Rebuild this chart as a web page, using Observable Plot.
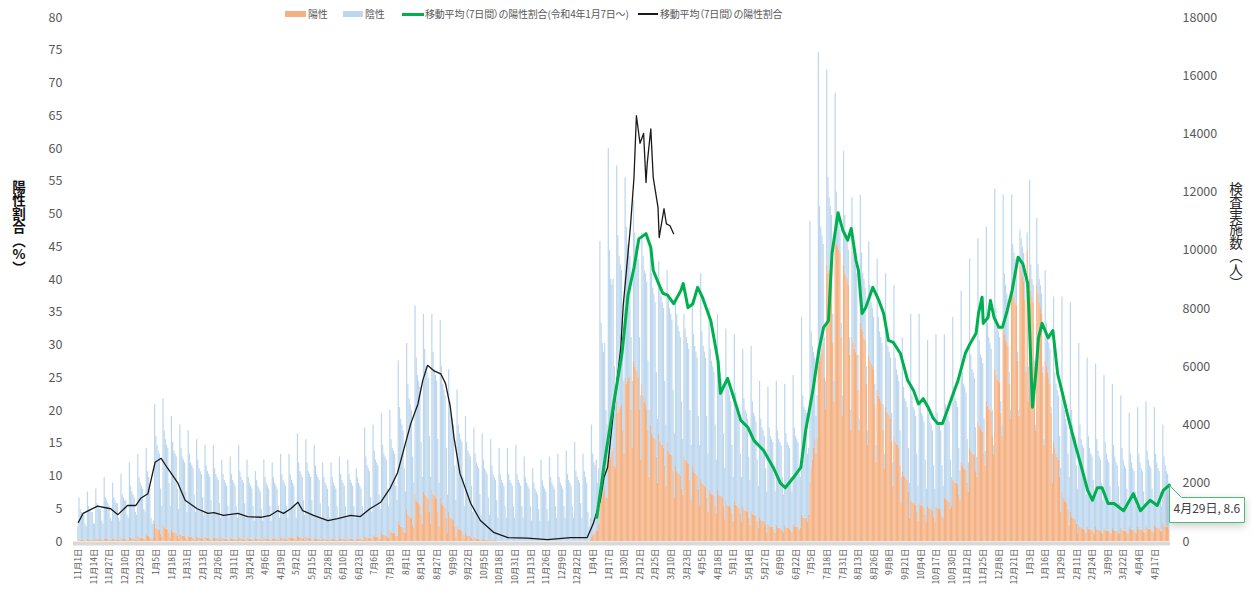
<!DOCTYPE html>
<html>
<head>
<meta charset="utf-8">
<script src="https://cdn.jsdelivr.net/npm/d3@7"></script>
<script src="https://cdn.jsdelivr.net/npm/@observablehq/plot@0.6"></script>
<style>
  body { margin: 0; background: #fff; font-family: "Noto Sans CJK JP", "Noto Sans", sans-serif; }
  #wrap { position: relative; width: 1252px; height: 602px; overflow: hidden; }
  .leg { position: absolute; top: 7px; font-size: 10px; line-height: 14px; color: #595959; white-space: nowrap; font-feature-settings: "palt"; letter-spacing: -0.2px; }
  .sw { position: absolute; }
  .vt { position: absolute; writing-mode: vertical-rl; text-orientation: upright; font-size: 13.5px; line-height: 14px; }
</style>
</head>
<body>
<div id="wrap">
  <div id="chart"></div>
  <div class="sw" style="left:285px;top:11px;width:21px;height:6px;background:#F4B183"></div>
  <div class="leg" style="left:308px">陽性</div>
  <div class="sw" style="left:343px;top:11px;width:20px;height:6px;background:#BDD7EE"></div>
  <div class="leg" style="left:365px">陰性</div>
  <div class="sw" style="left:402px;top:12.5px;width:22px;height:3px;background:#00B050"></div>
  <div class="leg" style="left:425px">移動平均（7日間）の陽性割合(令和4年1月7日～)</div>
  <div class="sw" style="left:638px;top:13.3px;width:20px;height:1.4px;background:#1a1a1a"></div>
  <div class="leg" style="left:660px">移動平均（7日間）の陽性割合</div>
  <div class="vt" style="left:12px;top:180px;font-weight:bold;color:#111">陽性割合（%）</div>
  <div class="vt" style="left:1229px;top:182px;color:#262626">検査実施数（人）</div>
</div>
<script>
// day 0 = 2020-11-01 (one value per day, 910 days, to 2023-04-29)
const startDate = "2020-11-01";

// x-axis tick labels (every 13 days from 11月1日)
const tickLabels = [
  "11月1日","11月14日","11月27日","12月10日","12月23日",
  "1月5日","1月18日","1月31日","2月13日","2月26日","3月11日","3月24日","4月6日","4月19日","5月2日","5月15日","5月28日","6月10日","6月23日","7月6日","7月19日","8月1日","8月14日","8月27日","9月9日","9月22日","10月5日","10月18日","10月31日","11月13日","11月26日","12月9日","12月22日",
  "1月4日","1月17日","1月30日","2月12日","2月25日","3月10日","3月23日","4月5日","4月18日","5月1日","5月14日","5月27日","6月9日","6月22日","7月5日","7月18日","7月31日","8月13日","8月26日","9月8日","9月21日","10月4日","10月17日","10月30日","11月12日","11月25日","12月8日","12月21日",
  "1月3日","1月16日","1月29日","2月11日","2月24日","3月9日","3月22日","4月4日","4月17日"
];
const tickStep = 13;

// 検査実施数 per day, in hundreds of persons
const testsHundreds = [
5,15,11,10,9,9,6,
5,17,12,11,10,10,6,
6,18,13,12,11,11,7,
6,22,15,14,13,12,8,
7,20,15,14,13,13,8,
7,23,16,15,14,14,9,
8,27,19,17,16,15,10,
9,30,22,20,19,18,11,
10,32,24,22,18,8,6,
7,47,36,33,31,30,18,
12,49,38,35,33,32,20,
12,43,34,31,30,29,18,
11,40,32,29,28,27,17,
10,38,30,27,26,25,16,
10,35,28,25,24,23,15,
9,33,26,24,23,22,14,
9,33,25,23,22,21,13,
8,28,23,21,20,19,12,
8,29,23,21,20,19,12,
8,33,24,22,21,20,13,
8,28,22,20,19,18,12,
7,24,21,19,18,17,11,
7,28,22,20,19,18,12,
7,27,22,20,19,18,12,
8,30,23,21,20,19,12,
8,30,23,21,20,19,12,
8,37,27,24,23,22,14,
9,35,27,24,23,22,14,
9,33,26,23,22,21,13,
8,27,22,20,19,18,12,
8,27,22,20,19,18,12,
8,29,23,21,20,19,12,
8,28,23,21,20,19,12,
8,25,22,20,19,18,12,
9,39,29,26,25,24,15,
10,40,31,28,27,26,16,
11,44,33,30,29,28,18,
12,45,35,32,31,30,19,
14,62,46,42,40,38,25,
17,68,54,49,47,45,29,
20,81,63,57,55,53,34,
22,78,66,60,58,56,36,
22,78,65,59,57,55,35,
20,76,60,54,52,50,32,
16,59,48,44,42,40,26,
14,52,40,37,35,34,22,
12,43,34,31,30,29,19,
10,39,30,27,26,25,16,
9,37,28,25,24,23,15,
9,35,26,23,22,21,14,
8,32,23,21,20,19,12,
8,32,23,21,20,19,12,
8,33,23,21,20,19,12,
8,29,22,20,19,18,12,
7,25,20,18,17,16,11,
7,28,21,19,18,17,11,
7,29,22,20,19,18,12,
8,30,22,20,19,18,12,
8,31,23,21,20,19,12,
8,34,24,22,21,20,13,
8,30,24,22,20,10,5,
8,40,30,27,26,28,20,
25,103,75,68,65,68,45,
40,135,100,90,88,90,60,
50,129,105,98,95,93,65,
55,125,108,102,100,98,70,
55,117,106,101,100,97,70,
50,106,98,93,92,89,62,
45,100,92,87,85,82,58,
42,96,88,84,82,80,55,
40,93,85,80,78,76,52,
37,83,78,74,72,70,48,
35,78,73,70,68,66,45,
33,83,71,67,65,63,43,
33,92,72,67,65,63,43,
30,80,66,62,60,58,40,
28,78,62,58,56,54,37,
25,73,56,52,50,48,33,
22,71,51,47,46,44,30,
22,66,49,45,44,42,29,
21,67,48,44,43,41,28,
19,55,42,39,38,36,25,
17,53,39,36,35,34,23,
17,55,38,35,34,33,22,
16,54,37,34,33,32,22,
17,57,39,36,35,34,23,
22,77,50,46,45,44,30,
32,110,72,67,65,63,43,
50,168,115,108,105,102,70,
55,162,125,118,115,112,78,
55,154,120,113,110,107,75,
50,134,112,106,103,100,70,
45,118,104,97,95,92,64,
42,119,99,92,90,87,60,
38,103,88,82,80,77,54,
33,97,77,72,70,68,47,
30,92,71,67,65,63,44,
27,88,63,59,57,55,38,
22,70,53,49,48,46,32,
20,78,50,46,45,43,30,
19,78,48,44,43,41,28,
18,69,44,41,40,38,26,
18,71,44,41,40,38,26,
19,71,47,44,43,41,28,
22,77,53,49,48,46,32,
24,86,58,54,53,51,35,
27,97,64,59,58,56,39,
29,104,69,64,63,61,42,
31,108,75,70,68,66,45,
33,121,80,74,72,70,48,
40,119,92,88,85,83,58,
45,119,102,99,97,95,65,
45,107,104,101,99,90,60,
106,60,124,95,90,88,62,
40,111,95,90,88,85,60,
35,93,75,70,68,66,46,
30,84,58,54,52,50,36,
25,84,50,45,42,40,30,
22,82,45,40,37,36,26,
18,68,40,35,33,32,23,
16,63,36,32,30,29,21,
15,61,35,31,29,28,20,
14,57,34,30,28,27,19,
14,54,33,29,27,26,19,
13,50,32,28,26,25,18,
12,44,30,27,25,24,17,
12,46,30,27,25,24,17,
13,48,31,28,26,25,18,
12,46,30,27,25,24,17,
12,40,29,26,24,23,20
];

// 陽性 per day, in tens of persons
const positivesTens = [
2,6,5,4,4,4,3,
2,8,6,5,5,5,3,
3,9,7,6,6,6,4,
3,11,8,7,7,6,4,
3,9,7,6,6,6,4,
3,11,8,7,7,7,5,
4,14,10,9,9,8,6,
5,18,13,12,12,11,8,
7,25,19,17,15,8,6,
10,60,45,42,40,38,25,
15,58,48,44,42,40,28,
12,40,33,30,28,27,18,
8,26,21,19,18,17,12,
6,19,15,14,13,12,8,
5,16,13,12,11,10,7,
5,14,12,11,10,9,6,
4,13,11,10,9,9,6,
4,12,9,9,8,8,5,
4,12,9,8,8,8,5,
4,13,10,9,8,8,5,
4,11,9,8,8,7,5,
3,10,8,8,7,7,5,
4,12,9,9,8,8,5,
4,12,9,9,8,8,5,
4,13,10,9,9,8,6,
5,16,12,11,11,10,7,
5,19,14,13,12,11,7,
5,15,12,10,10,9,6,
3,10,8,7,7,7,4,
3,9,7,7,6,6,4,
3,9,7,7,6,6,4,
3,10,8,7,7,7,4,
3,10,8,7,7,7,4,
3,10,8,7,7,7,5,
4,16,13,12,11,11,7,
6,22,17,16,15,14,9,
8,30,23,21,20,19,13,
11,40,32,29,28,27,18,
17,70,55,50,48,46,31,
28,110,92,86,82,80,55,
45,160,140,135,130,125,90,
60,170,160,155,150,145,100,
60,175,160,155,150,145,100,
50,150,130,124,120,115,80,
30,100,82,78,75,72,50,
15,55,42,40,38,36,25,
7,28,20,19,18,17,11,
4,14,10,9,9,8,6,
2,8,6,5,5,5,3,
1,5,3,3,3,3,2,
1,2,1,1,1,1,0,
0,2,1,1,1,1,1,
0,2,1,1,1,0,0,
0,1,1,1,1,1,0,
0,1,1,0,1,1,0,
0,1,1,1,0,1,0,
0,2,1,1,1,1,0,
1,2,1,1,1,1,1,
0,2,1,1,1,1,1,
1,2,2,1,1,1,1,
1,2,2,2,2,1,1,
5,15,20,25,30,40,35,
60,150,140,150,170,190,150,
150,300,280,290,310,320,260,
250,480,440,450,460,470,380,
300,560,540,550,560,570,450,
320,620,600,590,580,560,450,
280,540,500,480,470,450,380,
220,400,370,360,355,350,290,
200,370,345,335,330,320,260,
190,340,310,300,300,295,240,
150,260,240,235,230,225,180,
160,290,280,275,270,265,210,
140,260,240,235,230,225,180,
120,215,200,195,190,185,150,
100,180,165,160,160,155,125,
95,175,160,155,155,150,120,
75,140,125,120,120,115,95,
70,140,125,120,120,115,95,
65,120,110,105,105,100,80,
55,105,95,90,90,88,70,
45,82,72,70,70,68,55,
30,60,52,50,50,48,38,
28,55,47,45,45,43,35,
28,55,47,45,45,43,35,
30,60,52,50,50,48,38,
45,90,82,80,80,80,65,
90,200,250,280,320,350,300,
350,600,620,640,660,680,560,
450,950,920,930,940,950,680,
480,1030,1020,1010,1000,990,700,
430,950,920,910,900,880,640,
380,700,680,660,650,640,520,
380,750,730,720,700,690,540,
330,640,620,610,600,590,470,
270,520,500,490,480,470,380,
250,460,445,440,430,420,340,
190,360,340,335,330,320,260,
130,240,225,220,215,210,170,
80,140,135,130,130,125,100,
70,130,125,120,120,115,90,
65,120,115,110,110,105,85,
65,120,115,110,110,105,85,
80,150,145,140,140,135,110,
120,210,205,200,200,195,160,
140,270,260,250,250,245,200,
170,320,310,300,300,295,240,
220,410,395,385,380,375,300,
260,480,465,455,450,445,360,
300,590,570,555,550,545,440,
360,730,710,690,680,670,540,
420,880,860,840,820,810,620,
430,950,930,910,890,830,580,
1000,480,900,860,840,820,600,
380,880,850,820,800,780,580,
330,620,600,580,560,540,440,
200,340,320,300,290,280,220,
100,170,150,140,135,130,110,
55,100,85,80,78,75,60,
30,55,48,45,44,43,35,
28,50,43,40,40,39,32,
26,48,41,38,38,37,30,
24,45,38,35,35,34,28,
24,45,38,35,35,34,28,
24,45,38,36,35,34,28,
26,48,41,38,38,37,30,
27,50,43,40,40,39,32,
28,52,45,42,42,41,34,
30,56,48,45,45,44,36,
33,62,53,50,50,48,40
];

// 移動平均（7日間）の陽性割合 (black), day index and %
const blackDay = [0,4,16,27,33,41,48,52,58,64,69,74,83,89,99,108,113,121,133,141,152,160,166,171,177,183,187,196,208,216,227,235,243,252,260,266,271,277,283,287,291,296,302,306,310,313,318,327,335,346,358,374,391,410,424,429,435,438,441,446,452,454,460,463,465,468,471,473,474,477,479,483,484,488,490,493,496];
const blackRate = [2.9,4.3,5.4,5.0,4.1,5.5,5.5,6.6,7.3,12.1,12.7,11.3,8.9,6.3,5.0,4.3,4.4,4.0,4.3,3.8,3.7,4.0,4.7,4.3,5.0,6.0,4.7,4.0,3.2,3.5,4.0,3.8,5.0,6.0,8.2,10.5,13.9,18,21,24.6,26.9,26.1,25.6,24.1,20.5,15.9,10.4,5.8,3.2,1.4,0.6,0.5,0.3,0.6,0.6,2.7,6.3,9.8,11.3,20,29.6,36,48,55.6,65,60.8,62.3,54.8,57.7,63,55.6,51,46.4,50.8,48.5,48.2,47];

// 移動平均（7日間）の陽性割合(令和4年1月7日～) (green), day index and %
const greenDay = [432,439,446,453,458,463,467,473,477,479,483,487,491,496,502,504,508,512,516,520,527,533,535,541,545,552,558,563,571,579,585,589,596,602,606,612,617,621,625,628,633,637,641,644,648,650,653,656,662,667,671,675,679,685,691,696,700,704,708,712,716,720,724,729,733,739,743,748,750,753,754,758,760,763,767,770,774,778,783,787,791,792,795,798,800,803,808,812,816,820,824,829,835,841,845,849,853,858,863,871,879,885,893,899,904,909];
const greenRate = [3.7,12.8,21,28.7,37.6,41.8,46.2,47,44.9,41.4,39.6,37.9,37.6,36.3,38.3,39.4,35.7,36.3,38.8,37.3,33.7,27.6,22.6,24.9,22.6,18.5,17.4,15.4,13.9,11.3,8.9,8.2,9.8,11.3,16.9,23,29.2,32.7,33.7,44,50.2,47.5,46,47.8,42.9,41.4,34.8,35.7,38.8,36.8,34.8,30.7,30.4,28.7,24.6,23,21,21.8,20.5,18.9,18,18,20,22.6,24.6,28.7,30.2,31.8,34.8,37.3,33.3,34.2,36.8,34.2,32.7,32.7,35.3,38.3,43.4,42.4,39.4,35.3,20.5,26.1,31.1,33.3,31.1,32.2,25.6,22.6,19.5,15.9,11.9,7.8,6.3,8.2,8.2,5.8,5.8,4.7,7.3,4.7,6.3,5.5,7.8,8.6];

// ---- build tables ----
const start = new Date(startDate + "T00:00:00Z");
const rows = testsHundreds.map((t, i) => ({d: i, tests: t * 100, pos: positivesTens[i] * 10}));
const black = blackDay.map((d, i) => ({d, rate: blackRate[i]}));
const green = greenDay.map((d, i) => ({d, rate: greenRate[i]}));
const K = 18000 / 80; // left-axis % -> right-axis units
const last = green[green.length - 1];
const lastDate = d3.utcDay.offset(start, last.d);
const callout = [{...last, label: `${lastDate.getUTCMonth() + 1}月${lastDate.getUTCDate()}日, ${last.rate}`}];
const tickDays = tickLabels.map((_, i) => i * tickStep);

const chart = Plot.plot({
  width: 1252,
  height: 602,
  marginLeft: 73,
  marginRight: 82,
  marginTop: 17,
  marginBottom: 61,
  x: {type: "linear", domain: [-4, 910]},
  y: {domain: [0, 18000]},
  style: {fontFamily: "'Noto Sans CJK JP','Noto Sans',sans-serif", color: "#404040", background: "#fff", overflow: "visible"},
  marks: [
    Plot.rect(rows, {x1: d => d.d - 0.5, x2: d => d.d + 0.5, y1: 0, y2: "pos", fill: "#F4B183"}),
    Plot.rect(rows, {x1: d => d.d - 0.5, x2: d => d.d + 0.5, y1: "pos", y2: "tests", fill: "#BDD7EE"}),
    Plot.ruleY([0], {stroke: "#D9D9D9", strokeWidth: 4, dy: 2}),
    Plot.line(black, {x: "d", y: d => d.rate * K, stroke: "#1a1a1a", strokeWidth: 1.3}),
    Plot.line(green, {x: "d", y: d => d.rate * K, stroke: "#00B050", strokeWidth: 3}),
    Plot.axisY({anchor: "left", ticks: d3.range(0, 81, 5).map(v => v * K), tickFormat: v => String(Math.round(v / K)), tickSize: 0, tickPadding: 11, fontSize: 12.5, color: "#595959", label: null}),
    Plot.axisY({anchor: "right", ticks: d3.range(0, 18001, 2000), tickFormat: v => String(v), tickSize: 0, tickPadding: 12, fontSize: 12.5, color: "#595959", label: null}),
    Plot.axisX({ticks: tickDays, tickFormat: v => tickLabels[tickDays.indexOf(v)], tickRotate: -90, tickSize: 0, tickPadding: 7, fontSize: 8.5, color: "#595959", label: null}),
    Plot.tip(callout, {x: "d", y: d => d.rate * K, title: "label", anchor: "top-left", fill: "white", stroke: "#4DBB78", fontSize: 12, textPadding: 4, pointerSize: 12})
  ]
});
document.getElementById("chart").appendChild(chart);
</script>
</body>
</html>
